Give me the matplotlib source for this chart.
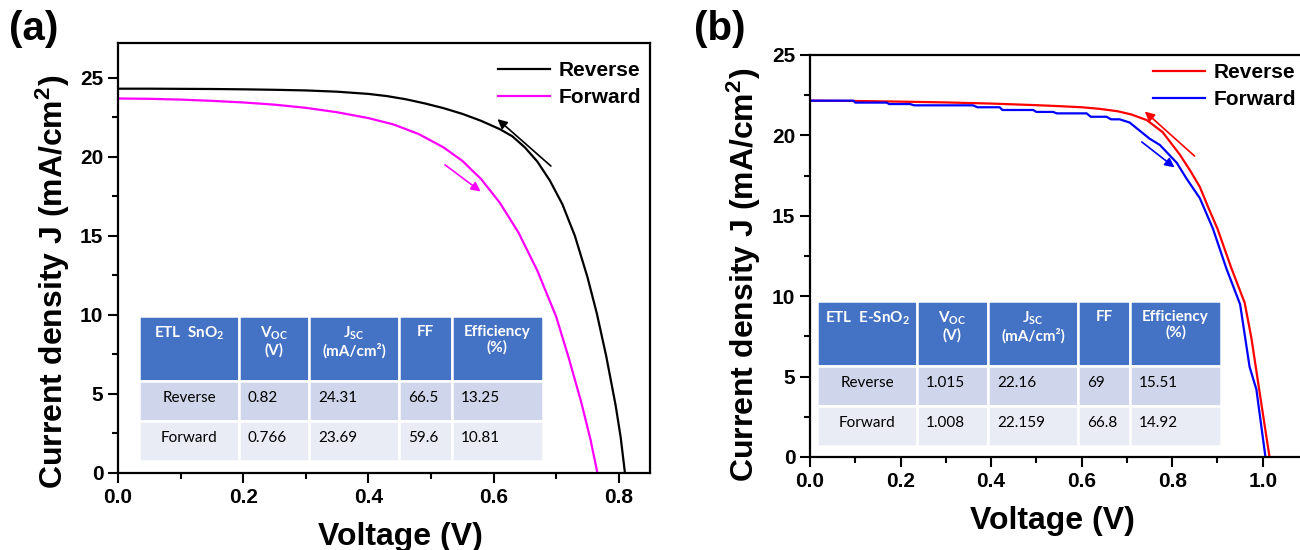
import matplotlib
matplotlib.use('Agg')
import matplotlib.pyplot as plt
from matplotlib.patches import Rectangle
from matplotlib.ticker import MultipleLocator, AutoMinorLocator

plt.rcParams['font.family'] = ['Liberation Sans', 'DejaVu Sans']
plt.rcParams['font.weight'] = 'bold'
plt.rcParams['axes.labelweight'] = 'bold'
plt.rcParams['mathtext.default'] = 'regular'

# ---- panel (a): ETL SnO2 ----
v_rev_a = [0, 0.05, 0.1, 0.15, 0.2, 0.25, 0.3, 0.35, 0.4, 0.43, 0.46, 0.49, 0.52, 0.55,
           0.58, 0.61, 0.63, 0.65, 0.67, 0.69, 0.71, 0.73, 0.75, 0.765, 0.78, 0.795,
           0.803, 0.81]
j_rev_a = [24.31, 24.31, 24.30, 24.29, 24.27, 24.24, 24.2, 24.12, 23.98, 23.84, 23.64,
           23.38, 23.08, 22.72, 22.28, 21.75, 21.3, 20.6, 19.7, 18.5, 17.0, 15.0, 12.4,
           10.1, 7.4, 4.3, 2.3, 0]
v_fwd_a = [0, 0.05, 0.1, 0.15, 0.2, 0.25, 0.3, 0.35, 0.4, 0.44, 0.48, 0.52, 0.55, 0.58,
           0.61, 0.64, 0.67, 0.7, 0.72, 0.74, 0.755, 0.766]
j_fwd_a = [23.69, 23.67, 23.62, 23.54, 23.44, 23.3, 23.1, 22.82, 22.45, 22.05, 21.45,
           20.6, 19.75, 18.6, 17.1, 15.2, 12.8, 9.9, 7.3, 4.5, 2.1, 0]

# ---- panel (b): ETL E-SnO2 ----
v_rev_b = [0, 0.1, 0.2, 0.3, 0.4, 0.5, 0.55, 0.6, 0.64, 0.68, 0.71, 0.744, 0.779, 0.817,
           0.84, 0.861, 0.88, 0.9, 0.93, 0.96, 0.975, 0.99, 1.003, 1.015]
j_rev_b = [22.16, 22.14, 22.1, 22.05, 21.98, 21.88, 21.82, 21.75, 21.65, 21.5, 21.3,
           20.95, 20.2, 18.8, 17.8, 16.8, 15.5, 14.2, 11.8, 9.6, 7.4, 4.6, 2.2, 0]
v_fwd_b = [0, 0.096, 0.1, 0.169, 0.175, 0.221, 0.23, 0.36, 0.37, 0.419, 0.425, 0.493,
           0.50, 0.537, 0.545, 0.611, 0.62, 0.655, 0.665, 0.684, 0.706, 0.728, 0.75,
           0.773, 0.81, 0.832, 0.861, 0.89, 0.92, 0.95, 0.971, 0.986, 1.006]
j_fwd_b = [22.16, 22.16, 22.04, 22.04, 21.95, 21.95, 21.87, 21.87, 21.75, 21.75, 21.58,
           21.58, 21.46, 21.46, 21.37, 21.37, 21.16, 21.16, 21.0, 21.0, 20.8, 20.3, 19.8,
           19.4, 18.3, 17.3, 16.1, 14.2, 11.7, 9.5, 5.6, 4.2, 0]

# scan direction arrows (tail, head) in data units
arrows_a = [((0.695, 19.3), (0.603, 22.5), 'black'), ((0.519, 19.6), (0.583, 17.7), '#ff00ff')]
arrows_b = [((0.854, 18.6), (0.735, 21.6), 'red'), ((0.728, 19.7), (0.81, 17.9), 'blue')]

# tables
header_a = ['ETL  SnO$_2$', 'V$_{OC}$\n(V)', 'J$_{SC}$\n(mA/cm²)', 'FF', 'Efficiency\n(%)']
rows_a = [['Reverse', '0.82', '24.31', '66.5', '13.25'],
          ['Forward', '0.766', '23.69', '59.6', '10.81']]
header_b = ['ETL  E-SnO$_2$', 'V$_{OC}$\n(V)', 'J$_{SC}$\n(mA/cm²)', 'FF', 'Efficiency\n(%)']
rows_b = [['Reverse', '1.015', '22.16', '69', '15.51'],
          ['Forward', '1.008', '22.159', '66.8', '14.92']]

W, H = 1300, 550
fig = plt.figure(figsize=(13, 5.5), dpi=100)


def fx(x):
    return x / W


def fy(y):
    return 1 - y / H


def style_axes(ax, xmax, ymax, xlab_pos, ylab_pos):
    ax.set_xlim(0, xmax)
    ax.set_ylim(0, ymax)
    ax.xaxis.set_major_locator(MultipleLocator(0.2))
    ax.xaxis.set_minor_locator(AutoMinorLocator(2))
    ax.yaxis.set_major_locator(MultipleLocator(5))
    ax.yaxis.set_minor_locator(AutoMinorLocator(2))
    ax.tick_params(which='both', direction='out', width=1.5, labelsize=15)
    ax.tick_params(which='major', length=7)
    ax.tick_params(which='minor', length=4)
    for s in ax.spines.values():
        s.set_linewidth(1.6)
    ax.set_xlabel('Voltage (V)', fontsize=23)
    ax.set_ylabel('Current density J (mA/cm$^2$)', fontsize=23)
    ax.xaxis.set_label_coords(*xlab_pos)
    ax.yaxis.set_label_coords(*ylab_pos)


def draw_table(cols, rows, header, body):
    fills = ['#4472c4', '#cfd5ea', '#e9ebf5']
    for r in range(3):
        for c in range(5):
            x0, x1 = cols[c], cols[c + 1]
            y0, y1 = rows[r], rows[r + 1]
            fig.patches.append(Rectangle((fx(x0), fy(y1)), fx(x1 - x0), (y1 - y0) / H,
                                         transform=fig.transFigure, facecolor=fills[r],
                                         edgecolor='white', lw=1.8))
            if r == 0:
                fig.text(fx((x0 + x1) / 2), fy(y0 + 9), header[c], ha='center', va='top',
                         color='white', fontsize=11, fontweight='bold', family='Lato',
                         linespacing=1.1)
            else:
                txt = body[r - 1][c]
                yc = fy((y0 + y1) / 2 - 3)
                if c == 0:
                    fig.text(fx((x0 + x1) / 2), yc, txt, ha='center', va='center',
                             fontsize=11, fontweight='normal', family='Lato')
                else:
                    fig.text(fx(x0 + 9), yc, txt, ha='left', va='center',
                             fontsize=11, fontweight='normal', family='Lato')


def add_legend(ax, right, top):
    ax.legend(loc='upper right', bbox_to_anchor=(fx(right), fy(top)),
              bbox_transform=fig.transFigure, frameon=False, fontsize=15,
              handlelength=2.5, labelspacing=0.4, handletextpad=0.4,
              borderaxespad=0, borderpad=0)


# panel (a)
ax1 = fig.add_axes([fx(118), fy(473), fx(532), 430 / H])
ax1.plot(v_rev_a, j_rev_a, color='black', lw=1.6, label='Reverse')
ax1.plot(v_fwd_a, j_fwd_a, color='#ff00ff', lw=1.6, label='Forward')
style_axes(ax1, 0.85, 27.2, (0.53, -0.115), (-0.086, 0.445))
for tail, head, col in arrows_a:
    ax1.annotate('', xy=head, xytext=tail,
                 arrowprops=dict(arrowstyle='-|>', color=col, lw=1.2, mutation_scale=14))
add_legend(ax1, 641, 61)

# panel (b)
ax2 = fig.add_axes([fx(810), fy(457), fx(498), 402 / H])
ax2.plot(v_rev_b, j_rev_b, color='red', lw=1.6, label='Reverse')
ax2.plot(v_fwd_b, j_fwd_b, color='blue', lw=1.6, label='Forward')
style_axes(ax2, 1.1, 25, (0.486, -0.122), (-0.094, 0.453))
for tail, head, col in arrows_b:
    ax2.annotate('', xy=head, xytext=tail,
                 arrowprops=dict(arrowstyle='-|>', color=col, lw=1.2, mutation_scale=14))
add_legend(ax2, 1296, 63)

draw_table([139, 239, 309, 399, 452, 543], [316, 381, 421, 461], header_a, rows_a)
draw_table([817, 917, 988, 1078, 1130, 1221], [301, 366, 406, 446], header_b, rows_b)

fig.text(fx(9), fy(10), '(a)', fontsize=29, va='top', ha='left')
fig.text(fx(694), fy(10), '(b)', fontsize=29, va='top', ha='left')

fig.savefig('out.png', dpi=100)
